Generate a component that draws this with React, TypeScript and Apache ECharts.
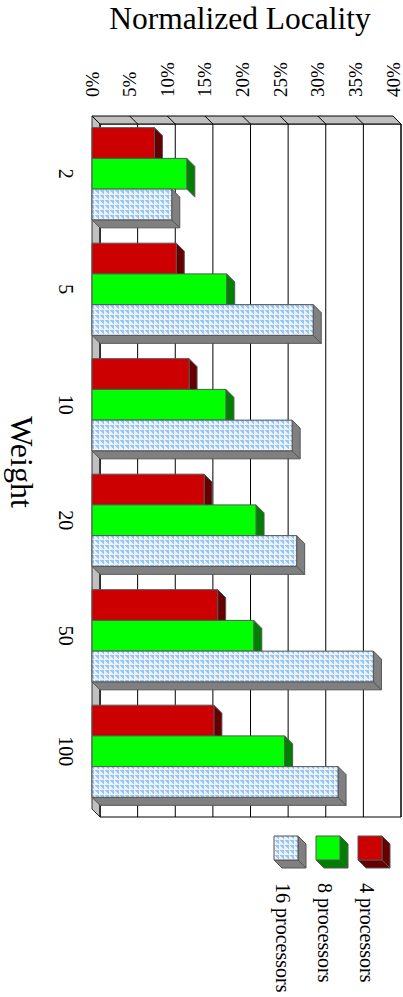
import React, { useEffect, useRef } from 'react';
import * as echarts from 'echarts';

const categories = ['2', '5', '10', '20', '50', '100'];
const seriesNames = ['4 processors', '8 processors', '16 processors'];
const proc4 = [8.3, 11.2, 12.9, 14.9, 16.7, 16.2];
const proc8 = [12.6, 17.9, 17.8, 21.8, 21.5, 25.6];
const proc16 = [10.6, 29.4, 26.6, 27.2, 37.4, 32.7];
const valueTicks = [0, 5, 10, 15, 20, 25, 30, 35, 40];
const titleText = 'Normalized Locality';
const axisNameText = 'Weight';

const D = 8;
const FONT = "'Liberation Serif', serif";
const EDGE = '#555555';

function makePattern(): string {
  const c = document.createElement('canvas');
  c.width = 5;
  c.height = 5;
  const ctx = c.getContext('2d')!;
  ctx.fillStyle = '#F0F0F0';
  ctx.fillRect(0, 0, 5, 5);
  ctx.fillStyle = '#8FC8FF';
  for (let r = 0; r < 4; r++) for (let col = r; col < 4; col++) ctx.fillRect(col, r, 1, 1);
  return c.toDataURL();
}

export default function App() {
  const ref = useRef<HTMLDivElement>(null);
  useEffect(() => {
    document.body.style.margin = '0';
    const chart = echarts.init(ref.current!, undefined, { renderer: 'svg' });
    const pat = makePattern();
    const blueFill: any = { image: pat, repeat: 'repeat' };
    const styles = [
      { front: '#CC0000', side: '#660000' },
      { front: '#00FF00', side: '#008000' },
      { front: blueFill, side: '#808080' },
    ];
    const datas = [proc4, proc8, proc16];

    const barRender = (idx: number) => (params: any, api: any) => {
      const v = api.value(0);
      const cat = api.value(1);
      const base = api.coord([0, cat]);
      const end = api.coord([v, cat]);
      const band = api.size([0, 1])[1];
      const h = band * 0.266;
      const top = base[1] - 1.5 * h + idx * h;
      const bot = top + h;
      const x0 = base[0];
      const x1 = end[0];
      const st = styles[idx];
      const children: any[] = [];
      if (idx === 2) {
        children.push({
          type: 'polygon',
          shape: { points: [[x0, bot], [x1, bot], [x1 + D, bot + D], [x0 + D, bot + D]] },
          style: { fill: st.side, stroke: EDGE, lineWidth: 1 },
        });
      }
      children.push({
        type: 'polygon',
        shape: { points: [[x1, top], [x1 + D, top + D], [x1 + D, bot + D], [x1, bot]] },
        style: { fill: st.side, stroke: EDGE, lineWidth: 1 },
      });
      children.push({
        type: 'rect',
        shape: { x: x0, y: top, width: x1 - x0, height: h },
        style: { fill: st.front, stroke: EDGE, lineWidth: 1 },
      });
      return { type: 'group', children };
    };

    const wallRender = (params: any, api: any) => {
      const cs = params.coordSys;
      const L = cs.x, T = cs.y, R = cs.x + cs.width, B = cs.y + cs.height;
      const children: any[] = [];
      children.push({
        type: 'rect',
        shape: { x: L + D, y: T + D, width: R - L, height: B - T },
        style: { fill: '#FFFFFF', stroke: '#000', lineWidth: 1 },
      });
      children.push({
        type: 'polygon',
        shape: { points: [[L, T], [R, T], [R + D, T + D], [L + D, T + D]] },
        style: { fill: '#C0C0C0', stroke: '#000', lineWidth: 1 },
      });
      children.push({
        type: 'polygon',
        shape: { points: [[L, T], [L + D, T + D], [L + D, B + D], [L, B]] },
        style: { fill: '#C0C0C0', stroke: '#333', lineWidth: 1 },
      });
      valueTicks.forEach((t) => {
        const x = api.coord([t, 0])[0];
        children.push({
          type: 'line',
          shape: { x1: x + D, y1: T + D, x2: x + D, y2: B + D },
          style: { stroke: '#000', lineWidth: 1 },
        });
        children.push({
          type: 'line',
          shape: { x1: x, y1: T, x2: x + D, y2: T + D },
          style: { stroke: '#000', lineWidth: 1 },
        });
      });
      return { type: 'group', children };
    };

    const legendX = [358, 316, 274];
    const cubeTop = 836;
    const cube = 24;
    const graphics: any[] = [
      {
        type: 'text',
        x: 240,
        y: 18,
        style: { text: titleText, fontSize: 31.5, fontFamily: FONT, fill: '#000', textAlign: 'center', textVerticalAlign: 'middle' },
      },
      {
        type: 'text',
        x: 22,
        y: 462,
        rotation: -Math.PI / 2,
        style: { text: axisNameText, fontSize: 32, fontFamily: FONT, fill: '#000', textAlign: 'center', textVerticalAlign: 'middle' },
      },
    ];
    seriesNames.forEach((name, i) => {
      const lx = legendX[i];
      const st = styles[i];
      graphics.push({
        type: 'polygon',
        shape: { points: [[lx + cube, cubeTop], [lx + cube + D, cubeTop + D], [lx + cube + D, cubeTop + cube + D], [lx + cube, cubeTop + cube]] },
        style: { fill: st.side, stroke: EDGE, lineWidth: 1 },
      });
      graphics.push({
        type: 'polygon',
        shape: { points: [[lx, cubeTop + cube], [lx + cube, cubeTop + cube], [lx + cube + D, cubeTop + cube + D], [lx + D, cubeTop + cube + D]] },
        style: { fill: st.side, stroke: EDGE, lineWidth: 1 },
      });
      graphics.push({
        type: 'rect',
        shape: { x: lx, y: cubeTop, width: cube, height: cube },
        style: { fill: st.front, stroke: EDGE, lineWidth: 1 },
      });
      graphics.push({
        type: 'text',
        x: lx + 8.5,
        y: 883,
        rotation: -Math.PI / 2,
        style: { text: name, fontSize: 20, fontFamily: FONT, fill: '#000', textAlign: 'left', textVerticalAlign: 'middle' },
      });
    });

    chart.setOption({
      animation: false,
      backgroundColor: '#FFFFFF',
      textStyle: { fontFamily: FONT },
      grid: { left: 92, top: 116, width: 301, height: 693, containLabel: false },
      xAxis: {
        type: 'value',
        position: 'top',
        min: 0,
        max: 40,
        interval: 5,
        axisLine: { show: false },
        axisTick: { show: false },
        splitLine: { show: false },
        axisLabel: {
          rotate: -90,
          margin: 19,
          fontSize: 19,
          fontFamily: FONT,
          color: '#000',
          formatter: '{value}%',
        },
      },
      yAxis: {
        type: 'category',
        data: categories,
        inverse: true,
        axisLine: { show: false },
        axisTick: { show: false },
        splitLine: { show: false },
        axisLabel: {
          rotate: -90,
          margin: 16,
          fontSize: 20,
          fontFamily: FONT,
          color: '#000',
          interval: 0,
        },
      },
      series: [
        {
          type: 'custom',
          name: 'walls',
          clip: false,
          silent: true,
          renderItem: wallRender,
          data: [[0, 0]],
          z: 1,
        },
        ...datas.map((d, i) => ({
          type: 'custom',
          name: seriesNames[i],
          clip: false,
          renderItem: barRender(i),
          data: d.map((v, j) => [v, j]),
          encode: { x: 0, y: 1 },
          z: 2 + i,
        })),
      ],
      graphic: graphics,
    });
    return () => chart.dispose();
  }, []);
  return <div ref={ref} style={{ width: 403, height: 997 }} />;
}
